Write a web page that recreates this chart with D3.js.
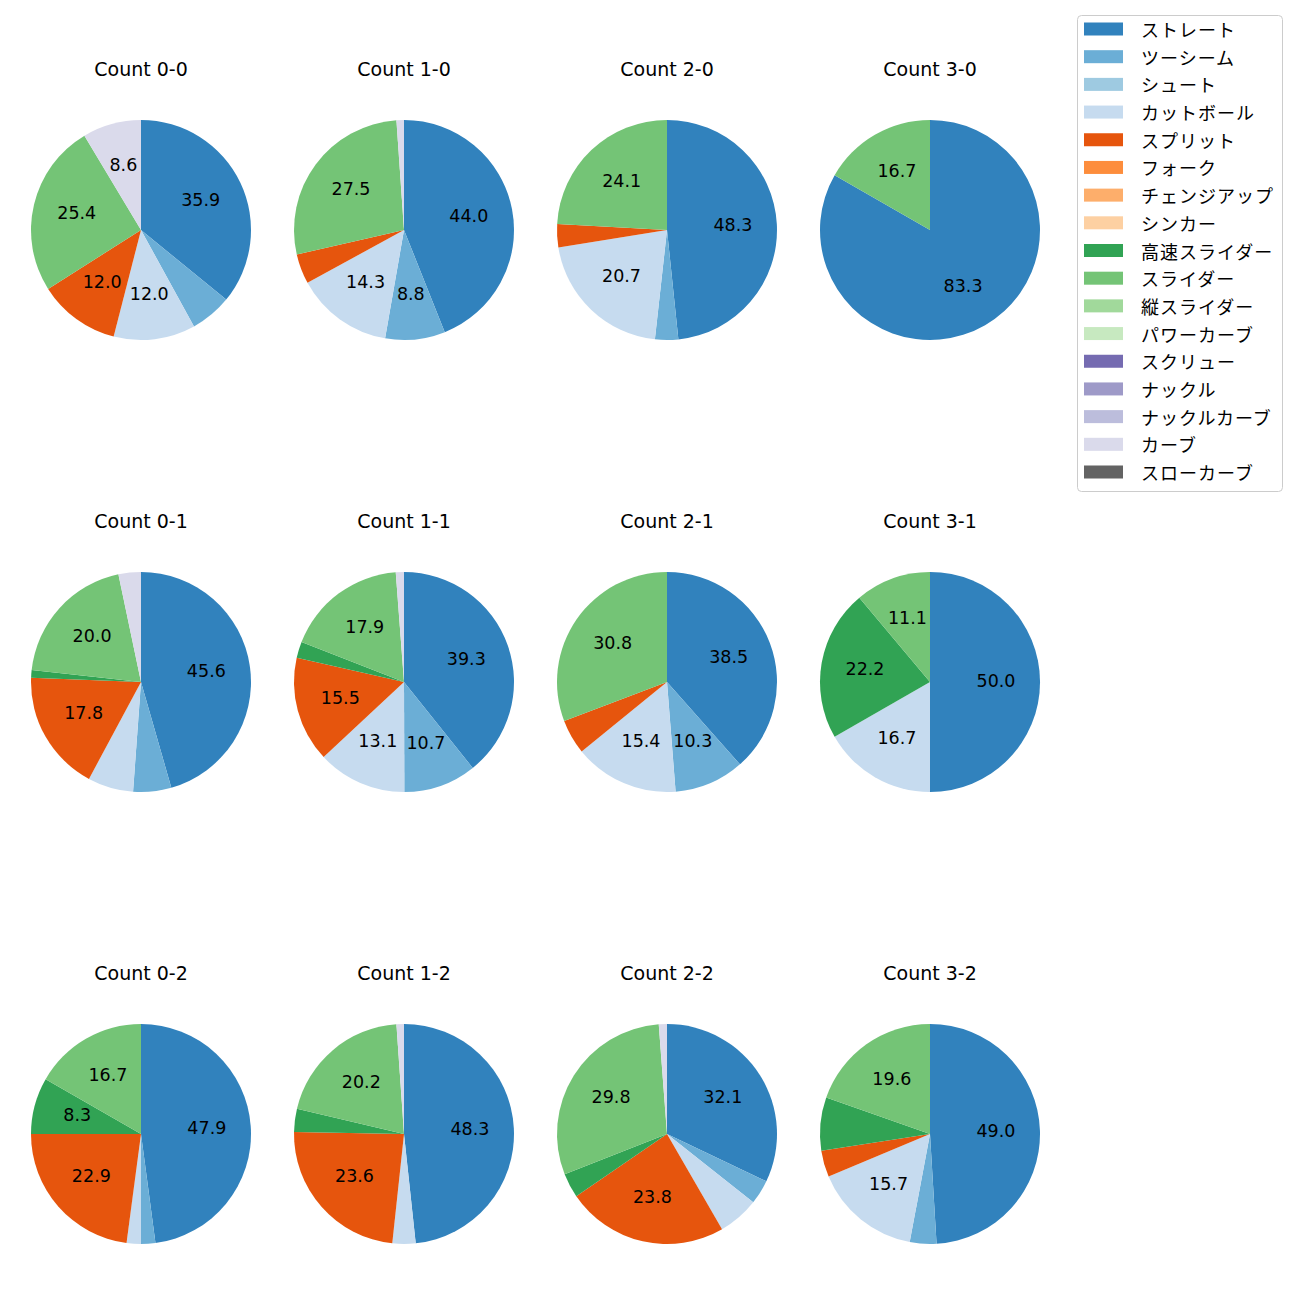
<!DOCTYPE html>
<html>
<head>
<meta charset="utf-8">
<script src="https://cdn.jsdelivr.net/npm/d3@7"></script>
<style>
  html, body { margin: 0; padding: 0; background: #ffffff; }
  svg { display: block; }
</style>
</head>
<body>
<svg id="chart" width="1300" height="1300"></svg>
<script>
// Pitch types (legend order)
const pitchTypes = ["ストレート", "ツーシーム", "シュート", "カットボール", "スプリット", "フォーク",
  "チェンジアップ", "シンカー", "高速スライダー", "スライダー", "縦スライダー", "パワーカーブ",
  "スクリュー", "ナックル", "ナックルカーブ", "カーブ", "スローカーブ"];
const pitchColors = ["#3182bd", "#6baed6", "#9ecae1", "#c6dbef", "#e6550d", "#fd8d3c",
  "#fdae6b", "#fdd0a2", "#31a354", "#74c476", "#a1d99b", "#c7e9c0",
  "#756bb1", "#9e9ac8", "#bcbddc", "#dadaeb", "#636363"];

// Count titles, row by row
const countTitles = ["Count 0-0", "Count 1-0", "Count 2-0", "Count 3-0",
  "Count 0-1", "Count 1-1", "Count 2-1", "Count 3-1",
  "Count 0-2", "Count 1-2", "Count 2-2", "Count 3-2"];

// Percent share per pitch type (legend order)
const count00 = [35.9, 6.1, 0, 12.0, 12.0, 0, 0, 0, 0, 25.4, 0, 0, 0, 0, 0, 8.6, 0];
const count10 = [44.0, 8.8, 0, 14.3, 4.4, 0, 0, 0, 0, 27.5, 0, 0, 0, 0, 0, 1.1, 0];
const count20 = [48.3, 3.4, 0, 20.7, 3.4, 0, 0, 0, 0, 24.1, 0, 0, 0, 0, 0, 0, 0];
const count30 = [83.3, 0, 0, 0, 0, 0, 0, 0, 0, 16.7, 0, 0, 0, 0, 0, 0, 0];
const count01 = [45.6, 5.6, 0, 6.7, 17.8, 0, 0, 0, 1.1, 20.0, 0, 0, 0, 0, 0, 3.3, 0];
const count11 = [39.3, 10.7, 0, 13.1, 15.5, 0, 0, 0, 2.4, 17.9, 0, 0, 0, 0, 0, 1.2, 0];
const count21 = [38.5, 10.3, 0, 15.4, 5.1, 0, 0, 0, 0, 30.8, 0, 0, 0, 0, 0, 0, 0];
const count31 = [50.0, 0, 0, 16.7, 0, 0, 0, 0, 22.2, 11.1, 0, 0, 0, 0, 0, 0, 0];
const count02 = [47.9, 2.1, 0, 2.1, 22.9, 0, 0, 0, 8.3, 16.7, 0, 0, 0, 0, 0, 0, 0];
const count12 = [48.3, 0, 0, 3.4, 23.6, 0, 0, 0, 3.4, 20.2, 0, 0, 0, 0, 0, 1.1, 0];
const count22 = [32.1, 3.6, 0, 6.0, 23.8, 0, 0, 0, 3.6, 29.8, 0, 0, 0, 0, 0, 1.2, 0];
const count32 = [49.0, 3.9, 0, 15.7, 3.9, 0, 0, 0, 7.8, 19.6, 0, 0, 0, 0, 0, 0, 0];

const allCounts = [count00, count10, count20, count30,
                   count01, count11, count21, count31,
                   count02, count12, count22, count32];

const svg = d3.select("#chart");
const latinFont = "'DejaVu Sans', sans-serif";
const jpFont = "'Noto Sans CJK JP', 'DejaVu Sans', sans-serif";

const colScale = d3.scalePoint().domain([0, 1, 2, 3]).range([141, 930]);
const rowScale = d3.scalePoint().domain([0, 1, 2]).range([230, 1134]);
const color = d3.scaleOrdinal().domain(pitchTypes).range(pitchColors);

const radius = 110;
const arc = d3.arc().innerRadius(0).outerRadius(radius);
const labelArc = d3.arc().innerRadius(radius * 0.6).outerRadius(radius * 0.6);
const pie = d3.pie().sort(null).value(d => d.v).startAngle(0).endAngle(2 * Math.PI);

allCounts.forEach((vals, i) => {
  const cx = colScale(i % 4), cy = rowScale(Math.floor(i / 4));
  const total = d3.sum(vals);
  const data = vals.map((v, k) => ({ type: pitchTypes[k], v }));
  const g = svg.append("g").attr("transform", `translate(${cx},${cy})`);
  const arcs = pie(data).filter(d => d.data.v > 0);
  g.selectAll("path").data(arcs).join("path")
    .attr("d", arc)
    .attr("fill", d => color(d.data.type));
  g.selectAll("text.lbl").data(arcs.filter(d => d.data.v / total * 100 >= 8)).join("text")
    .attr("class", "lbl")
    .attr("transform", d => `translate(${labelArc.centroid(d)})`)
    .attr("dy", "-1.5")
    .attr("text-anchor", "middle")
    .attr("dominant-baseline", "central")
    .style("font-family", latinFont)
    .style("font-size", "17.5px")
    .attr("fill", "#000")
    .text(d => (d.data.v / total * 100).toFixed(1));
  svg.append("text")
    .attr("x", cx).attr("y", cy - 161)
    .attr("text-anchor", "middle")
    .attr("dominant-baseline", "central")
    .style("font-family", latinFont)
    .style("font-size", "19px")
    .attr("fill", "#000")
    .text(countTitles[i]);
});

// Legend
const legend = svg.append("g");
legend.append("rect")
  .attr("x", 1077.5).attr("y", 15.5).attr("width", 205).attr("height", 476)
  .attr("rx", 4).attr("ry", 4)
  .attr("fill", "#ffffff").attr("fill-opacity", 0.8)
  .attr("stroke", "#cccccc").attr("stroke-width", 1);
const rowY = d3.scaleLinear().domain([0, pitchTypes.length - 1]).range([29, 472]);
const items = legend.selectAll("g.item").data(pitchTypes).join("g")
  .attr("class", "item")
  .attr("transform", (d, k) => `translate(0,${rowY(k)})`);
items.append("rect")
  .attr("x", 1084).attr("y", -6.5).attr("width", 39).attr("height", 13)
  .attr("fill", d => color(d));
items.append("text")
  .attr("x", 1141).attr("y", 0)
  .attr("dominant-baseline", "central")
  .style("font-family", jpFont)
  .style("font-size", "18px")
  .style("letter-spacing", "1px")
  .attr("fill", "#000")
  .text(d => d);
</script>
</body>
</html>
